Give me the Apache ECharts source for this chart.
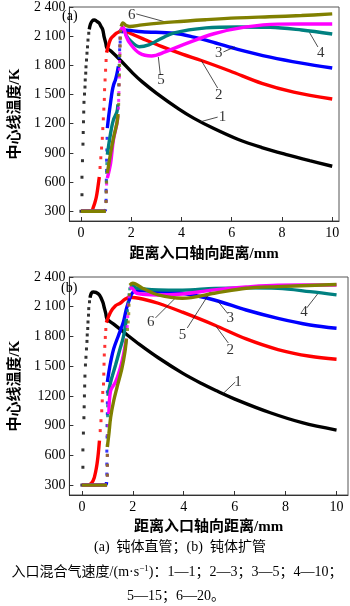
<!DOCTYPE html>
<html style="height: 100%">
<head>
  <meta charset="utf-8">
  <title>中心线温度</title>
  <script src="https://cdn.jsdelivr.net/npm/echarts@6/dist/echarts.min.js"></script>
</head>
<body style="margin: 0; height: 100%; background: #fff">
  <div id="main" style="width: 350px; height: 606px"></div>
  <script>
    // 坐标刻度
    const xTicks = [0, 2, 4, 6, 8, 10];
    const yTicks = [300, 600, 900, 1200, 1500, 1800, 2100, 2400];
    const aYLabels = ['300', '600', '900', '1 200', '1 500', '1 800', '2 100', '2 400'];
    const bYLabels = ['300', '600', '900', '1200', '1 500', '1 800', '2 100', '2 400'];

    // (a) 钝体直管 —— 线段（[x, T]）与陡升处的散点
    const aBlackDots = [[0,300],[0.04,470],[0.04,650],[0.06,820],[0.08,990],[0.09,1110],[0.1,1220],[0.11,1320],[0.12,1420],[0.14,1505],[0.16,1577],[0.17,1650],[0.19,1720],[0.2,1785],[0.22,1855],[0.24,1925],[0.26,1990],[0.28,2060],[0.31,2130]];
    const aBlackLine = [[[0.33,2170],[0.38,2225],[0.45,2258],[0.53,2267],[0.62,2255],[0.72,2236],[0.8,2200],[0.87,2164],[0.92,2095],[0.99,2027],[1.03,1979],[1.18,1950],[1.56,1855],[2.07,1718],[2.44,1630],[3.0,1515],[3.9,1350],[4.5,1255],[5.29,1150],[6.24,1040],[7.2,955],[8.14,885],[9.1,820],[10,763]]];
    const aRedDots = [[0.76,750],[0.79,850],[0.82,950],[0.85,1050],[0.87,1150],[0.89,1250],[0.91,1350],[0.93,1450],[0.94,1550],[0.96,1650],[0.98,1750],[1.0,1850]];
    const aRedLine = [[[0,300],[0.42,303],[0.49,341],[0.55,385],[0.61,444],[0.67,540],[0.73,653]], [[1.02,1930],[1.1,2010],[1.18,2070],[1.3,2105],[1.43,2133],[1.55,2150],[1.63,2172],[1.72,2158],[2.0,2125],[2.45,2075],[3.2,1995],[4.03,1915],[4.79,1850],[5.93,1742],[7.2,1615],[8.47,1525],[10,1454]]];
    const aBlueDots = [[1.0,413],[1.0,516],[1.01,620],[1.02,720],[1.02,825],[1.03,930],[1.04,1050],[1.52,1880],[1.54,1960],[1.56,2040]];
    const aBlueLine = [[[0,300],[0.93,303],[0.98,320]], [[1.05,1155],[1.11,1290],[1.18,1420],[1.24,1530],[1.3,1600],[1.37,1650],[1.43,1710],[1.49,1790]], [[1.6,2130],[1.66,2165],[2.43,2145],[3.71,2130],[4.49,2090],[5.36,2030],[6.24,1965],[7.53,1885],[8.78,1823],[10,1773]]];
    const aTealDots = [[1.0,400],[1.0,500],[1.01,600],[1.02,700],[1.03,790],[1.49,1500],[1.5,1600],[1.51,1700],[1.52,1800],[1.53,1900],[1.54,2000],[1.55,2080]];
    const aTealLine = [[[0,300],[0.97,300]], [[1.05,880],[1.18,1103],[1.29,1237],[1.43,1320],[1.47,1400]], [[1.56,2150],[1.67,2185],[1.8,2110],[1.94,2061],[2.32,1992],[2.7,2010],[3.08,2061],[3.71,2133],[4.98,2185],[6.24,2195],[7.53,2192],[8.78,2164],[10,2123]]];
    const aMagentaDots = [[1.0,400],[1.01,500],[1.02,580],[1.49,1360],[1.5,1440],[1.51,1520],[1.52,1600],[1.53,1680],[1.53,1760],[1.54,1840],[1.55,1920],[1.55,2000],[1.56,2080]];
    const aMagentaLine = [[[0,300],[0.98,300]], [[1.05,640],[1.18,794],[1.29,1031],[1.43,1200],[1.47,1280]], [[1.57,2150],[1.67,2195],[1.8,2100],[1.94,2030],[2.32,1927],[2.81,1896],[3.35,1938],[4.1,2015],[5.29,2125],[6.58,2195],[7.83,2224],[10,2226]]];
    const aOliveDots = [[1.0,400],[1.01,500],[1.02,600],[1.5,1400],[1.51,1500],[1.52,1600],[1.53,1700],[1.54,1800],[1.55,1900],[1.56,2000],[1.57,2080],[1.58,2150]];
    const aOliveLine = [[[0,300],[0.99,300]], [[1.05,690],[1.18,897],[1.3,1060],[1.43,1206],[1.48,1300]], [[1.6,2200],[1.67,2236],[1.8,2210],[1.94,2200],[2.43,2216],[3.71,2247],[5.0,2270],[6.24,2288],[7.5,2300],[8.78,2312],[10,2329]]];

    // (b) 钝体扩管
    const bBlackDots = [[0,300],[0.04,480],[0.04,655],[0.06,825],[0.08,980],[0.09,1090],[0.1,1200],[0.11,1300],[0.12,1400],[0.14,1512],[0.16,1590],[0.18,1674],[0.2,1750],[0.21,1815],[0.23,1880],[0.24,1946],[0.26,2015],[0.27,2081],[0.3,2150]];
    const bBlackLine = [[[0.32,2190],[0.37,2235],[0.44,2249],[0.55,2245],[0.69,2219],[0.82,2148],[0.88,2090],[0.94,2030],[0.99,1975],[1.25,1925],[1.76,1820],[2.26,1720],[3.0,1585],[3.95,1430],[4.7,1325],[5.26,1255],[6.13,1155],[7.4,1030],[8.65,930],[10,855]]];
    const bRedDots = [[0.72,850],[0.75,950],[0.78,1050],[0.8,1150],[0.82,1235],[0.85,1320],[0.86,1420],[0.87,1520],[0.88,1613],[0.9,1700],[0.92,1790],[0.94,1870]];
    const bRedLine = [[[0,300],[0.25,300],[0.44,343],[0.56,460],[0.63,583],[0.69,748]], [[0.96,1940],[1.13,2047],[1.32,2110],[1.5,2135],[1.69,2175],[1.9,2195],[2.38,2178],[3.0,2135],[3.95,2045],[5.2,1916],[6.45,1775],[7.7,1668],[8.96,1600],[10,1570]]];
    const bBlueDots = [[0.98,411],[0.98,512],[0.98,643],[0.99,785],[0.99,900],[1.0,1020],[1.0,1130],[1.0,1240]];
    const bBlueLine = [[[0,300],[0.93,305],[0.97,330]], [[1.0,1340],[1.06,1441],[1.13,1542],[1.25,1677],[1.44,1812],[1.63,1946],[1.75,2081],[1.88,2182],[2.0,2245],[2.2,2262],[3.0,2252],[3.95,2236],[5.2,2168],[6.45,2067],[7.7,1983],[8.96,1916],[10,1883]]];
    const bTealDots = [[1.0,400],[1.0,500],[1.0,600],[1.0,700],[1.0,800],[1.0,900],[1.01,1000],[1.01,1100],[1.79,2060],[1.82,2140],[1.85,2220],[1.88,2280]];
    const bTealLine = [[[0,300],[0.97,300]], [[1.02,1200],[1.13,1340],[1.32,1509],[1.5,1677],[1.63,1795],[1.75,1980]], [[1.92,2300],[1.97,2317],[2.15,2287],[3.0,2270],[3.95,2268],[5.2,2285],[6.45,2290],[7.7,2285],[8.96,2252],[10,2219]]];
    const bMagentaDots = [[1.0,400],[1.0,500],[1.0,600],[1.01,700],[1.02,800],[1.03,900],[1.78,1900],[1.8,2000],[1.82,2118],[1.85,2200]];
    const bMagentaLine = [[[0,300],[0.98,300]], [[1.06,1017],[1.13,1252],[1.32,1340],[1.5,1475],[1.63,1613],[1.75,1778]], [[1.88,2283],[1.95,2290],[2.15,2236],[3.0,2219],[3.95,2229],[5.2,2270],[6.45,2300],[7.7,2318],[10,2320]]];
    const bOliveDots = [[1.0,400],[1.0,500],[1.0,600],[1.79,1870],[1.82,1946],[1.84,2030],[1.85,2115],[1.87,2220]];
    const bOliveLine = [[[0,300],[0.99,300]], [[1.0,684],[1.06,815],[1.13,984],[1.25,1151],[1.38,1287],[1.57,1475],[1.69,1643],[1.75,1778]], [[1.88,2317],[2.0,2337],[2.38,2287],[3.0,2219],[3.95,2185],[5.2,2236],[6.45,2287],[7.7,2303],[10,2325]]];

    // 曲线编号及引线：[编号, 文字位置, 引线起点, 引线终点]
    const aNotes = [['6',[2.02,2319],[2.2,2329],[3.35,2247]], ['5',[3.19,1649],[3.16,1701],[3.08,1886]], ['3',[5.48,1927],[5.67,1938],[6.12,1989]], ['2',[5.48,1495],[5.44,1567],[4.79,1850]], ['4',[9.54,1927],[9.43,1989],[9.09,2140]], ['1',[5.63,1268],[5.44,1268],[4.75,1220]]];
    const bNotes = [['6',[2.7,1949],[2.89,1987],[3.68,2190]], ['5',[3.95,1815],[4.14,1886],[5.08,2265]], ['3',[5.83,1987],[5.71,2037],[5.34,2155]], ['2',[5.83,1664],[5.75,1734],[5.26,1905]], ['4',[8.72,2047],[8.83,2088],[9.29,2240]], ['1',[6.13,1340],[6.02,1340],[5.53,1220]]];

    const colors = ['#000000', '#ff0000', '#0000ff', '#008080', '#ff00ff', '#808000'];
    const serif = '"Liberation Serif", "Noto Sans CJK SC", serif';

    const chart = echarts.init(document.getElementById('main'));

    function joinSegs(segs) {
      const out = [];
      segs.forEach((s, i) => {
        if (i > 0) out.push([s[0][0], '-']);
        s.forEach(p => out.push(p));
      });
      return out;
    }

    const series = [];
    function addCurves(g, curves) {
      curves.forEach((c, i) => {
        series.push({
          type: 'line', xAxisIndex: g, yAxisIndex: g,
          data: joinSegs(c[0]), showSymbol: false, symbol: 'none',
          smooth: 0.35, connectNulls: false,
          lineStyle: { color: colors[i], width: 3.4 }, z: 2 + i
        });
        series.push({
          type: 'scatter', xAxisIndex: g, yAxisIndex: g,
          data: c[1], symbol: 'rect', symbolSize: 3,
          itemStyle: { color: colors[i] }, z: 2 + i
        });
      });
    }
    addCurves(0, [[aBlackLine, aBlackDots], [aRedLine, aRedDots], [aBlueLine, aBlueDots], [aTealLine, aTealDots], [aMagentaLine, aMagentaDots], [aOliveLine, aOliveDots]]);
    addCurves(1, [[bBlackLine, bBlackDots], [bRedLine, bRedDots], [bBlueLine, bBlueDots], [bTealLine, bTealDots], [bMagentaLine, bMagentaDots], [bOliveLine, bOliveDots]]);

    function addNotes(g, notes) {
      series.push({
        type: 'scatter', xAxisIndex: g, yAxisIndex: g, z: 20,
        symbolSize: 1, itemStyle: { color: 'rgba(0,0,0,0)' },
        data: notes.map(n => ({ name: n[0], value: n[1] })),
        label: { show: true, position: 'inside', formatter: '{b}', color: '#000', fontFamily: serif, fontSize: 15 },
        markLine: {
          silent: true, symbol: ['none', 'none'], label: { show: false },
          lineStyle: { color: '#222', width: 0.8, type: 'solid' },
          data: notes.map(n => [{ coord: n[2] }, { coord: n[3] }])
        }
      });
    }
    addNotes(0, aNotes);
    addNotes(1, bNotes);

    function makeX(g, max) {
      return {
        type: 'value', gridIndex: g, min: g ? -0.49 : -0.46, max: max,
        name: '距离入口轴向距离/mm', nameLocation: 'middle', nameGap: g ? 25 : 26,
        nameTextStyle: { fontFamily: serif, fontSize: 15, fontWeight: 'bold', color: '#000' },
        axisLine: { onZero: false, lineStyle: { color: '#333', width: 1 } },
        axisTick: { inside: true, length: 4, customValues: xTicks, lineStyle: { color: '#333' } },
        axisLabel: { customValues: xTicks, margin: 5, fontFamily: serif, fontSize: 14, color: '#000' },
        splitLine: { show: false }
      };
    }
    function makeY(g, labels) {
      return {
        type: 'value', gridIndex: g, min: 200, max: 2400,
        name: '中心线温度/K', nameLocation: 'middle', nameGap: 38,
        nameTextStyle: { fontFamily: serif, fontSize: 15, fontWeight: 'bold', color: '#000' },
        axisLine: { onZero: false, lineStyle: { color: '#333', width: 1 } },
        axisTick: { inside: true, length: 4, customValues: yTicks, lineStyle: { color: '#333' } },
        axisLabel: {
          customValues: yTicks, margin: 4, fontFamily: serif, fontSize: 14, color: '#000',
          formatter: v => labels[yTicks.indexOf(v)]
        },
        splitLine: { show: false }
      };
    }

    chart.setOption({
      animation: false,
      grid: [
        { left: 57, top: 7, width: 282, height: 214, show: true, borderColor: '#555', borderWidth: 1 },
        { left: 57, top: 277, width: 291, height: 218, show: true, borderColor: '#555', borderWidth: 1 }
      ],
      xAxis: [makeX(0, 10.27), makeX(1, 10.45)],
      yAxis: [makeY(0, aYLabels), makeY(1, bYLabels)],
      graphic: [
        { type: 'text', left: 62, top: 9, z: 30, style: { text: '(a)', font: '14px ' + serif, fill: '#000' } },
        { type: 'text', left: 61, top: 281, z: 30, style: { text: '(b)', font: '14px ' + serif, fill: '#000' } },
        { type: 'text', x: 180, y: 547, style: { text: '(a)  钝体直管；(b)  钝体扩管', font: '14px ' + serif, fill: '#000', align: 'center', verticalAlign: 'middle' } },
        { type: 'text', x: 177, y: 572, style: {
            text: '{n|入口混合气速度/(m·s}{s|−1}{n|)：1—1；2—3；3—5；4—10；}',
            align: 'center', verticalAlign: 'middle',
            rich: {
              n: { fontFamily: serif, fontSize: 14, fill: '#000' },
              s: { fontFamily: serif, fontSize: 9, fill: '#000', verticalAlign: 'top', padding: [0, 0, 6, 0] }
            }
          } },
        { type: 'text', x: 176, y: 596, style: { text: '5—15；6—20。', font: '14px ' + serif, fill: '#000', align: 'center', verticalAlign: 'middle' } }
      ],
      series: series
    });
  </script>
</body>
</html>
